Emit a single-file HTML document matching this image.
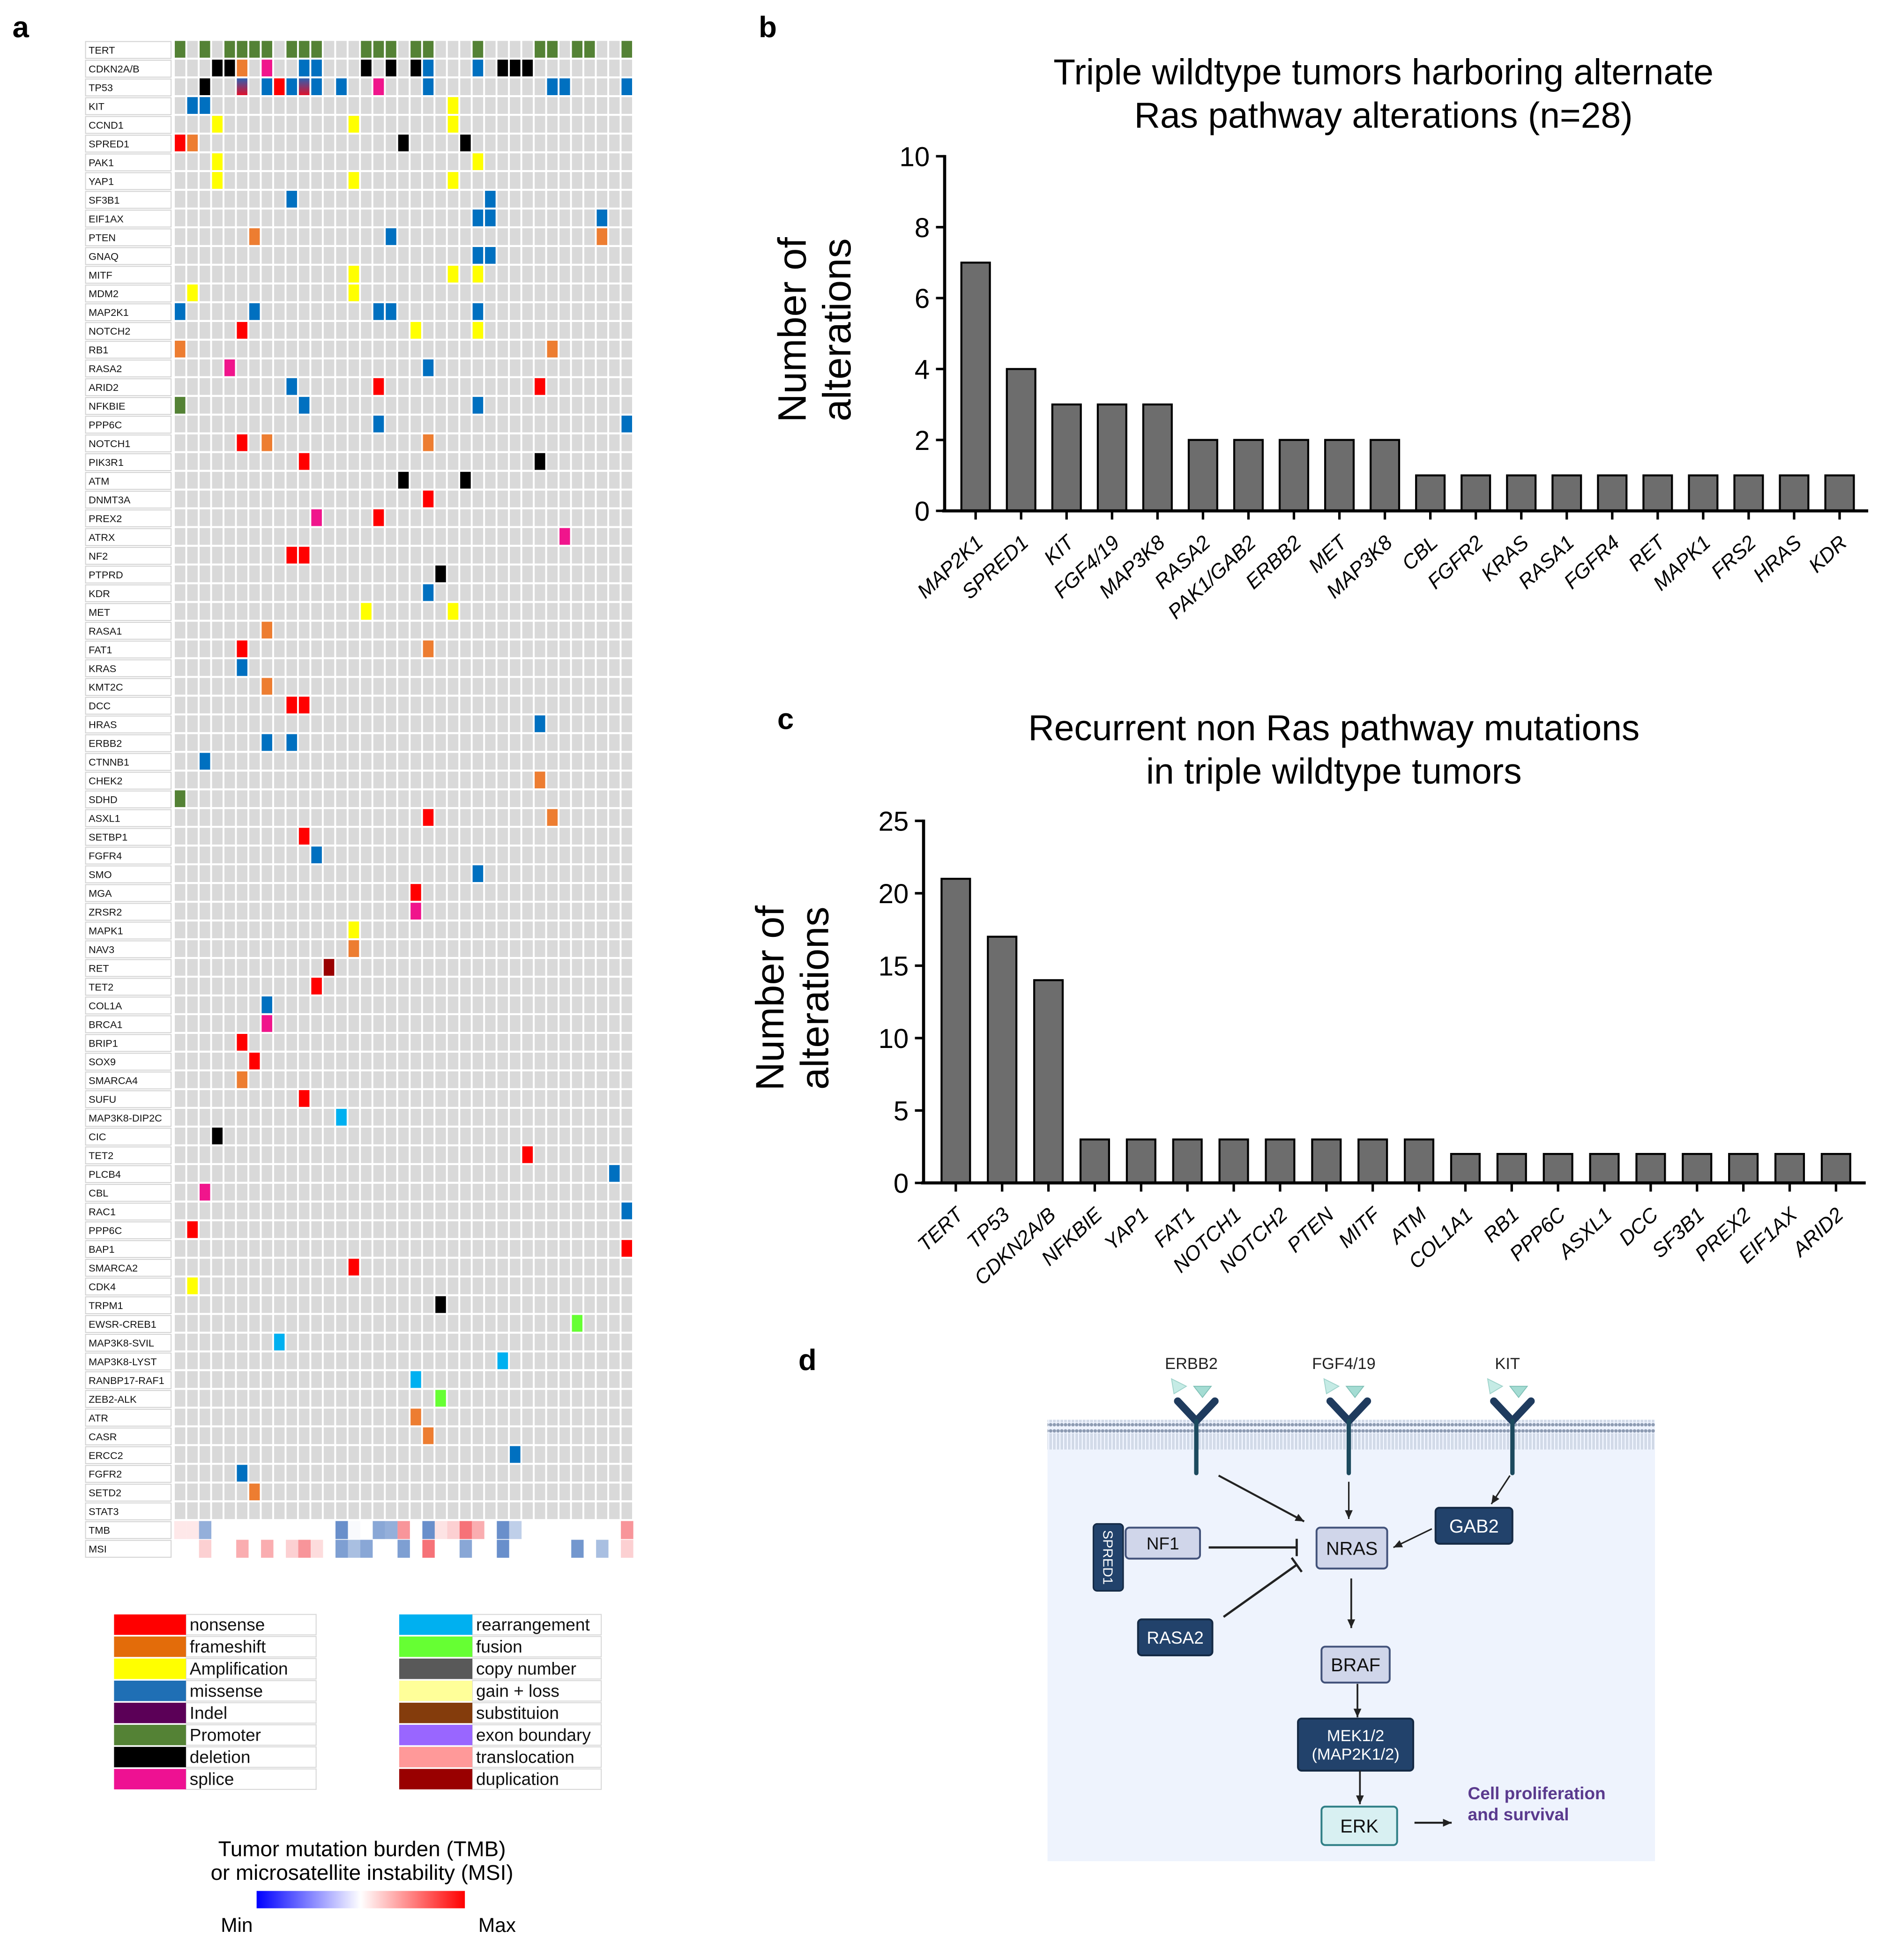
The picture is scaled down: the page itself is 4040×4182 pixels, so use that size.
<!DOCTYPE html>
<html><head><meta charset="utf-8">
<style>
html,body{margin:0;padding:0;background:#fff;}
svg{display:block;font-family:"Liberation Sans",Arial,sans-serif;}
</style></head>
<body>
<svg id="fig" width="4040" height="4182" viewBox="0 0 1527 1580.7" preserveAspectRatio="none" xmlns="http://www.w3.org/2000/svg">
<defs>
<linearGradient id="tp53grad" x1="0" y1="0" x2="0" y2="1"><stop offset="0" stop-color="#2f5fb0"/><stop offset="1" stop-color="#e0102a"/></linearGradient>
<linearGradient id="scalegrad" x1="0" y1="0" x2="1" y2="0"><stop offset="0" stop-color="#0000ff"/><stop offset="0.5" stop-color="#ffffff"/><stop offset="1" stop-color="#ff0000"/></linearGradient>
<pattern id="memb" x="0" y="0" width="3" height="24" patternUnits="userSpaceOnUse"><circle cx="1.5" cy="2" r="1.4" fill="#8d9bb2"/><circle cx="1.5" cy="21" r="1.4" fill="#8d9bb2"/><line x1="1" y1="4" x2="1" y2="19" stroke="#b7c2d4" stroke-width="0.5"/><line x1="2" y1="4" x2="2" y2="19" stroke="#b7c2d4" stroke-width="0.5"/></pattern>
</defs>
<g id="panelA"></g>
<g id="panelB"></g>
<g id="panelC"></g>
<g id="panelD"></g>
</svg>
<script>
var NS="http://www.w3.org/2000/svg";
// ---------- DATA ----------
var genes=["TERT","CDKN2A/B","TP53","KIT","CCND1","SPRED1","PAK1","YAP1","SF3B1","EIF1AX","PTEN","GNAQ","MITF","MDM2","MAP2K1","NOTCH2","RB1","RASA2","ARID2","NFKBIE","PPP6C","NOTCH1","PIK3R1","ATM","DNMT3A","PREX2","ATRX","NF2","PTPRD","KDR","MET","RASA1","FAT1","KRAS","KMT2C","DCC","HRAS","ERBB2","CTNNB1","CHEK2","SDHD","ASXL1","SETBP1","FGFR4","SMO","MGA","ZRSR2","MAPK1","NAV3","RET","TET2","COL1A","BRCA1","BRIP1","SOX9","SMARCA4","SUFU","MAP3K8-DIP2C","CIC","TET2","PLCB4","CBL","RAC1","PPP6C","BAP1","SMARCA2","CDK4","TRPM1","EWSR-CREB1","MAP3K8-SVIL","MAP3K8-LYST","RANBP17-RAF1","ZEB2-ALK","ATR","CASR","ERCC2","FGFR2","SETD2","STAT3"];
var alterations=["P0 P2 P4 P5 P6 P7 P9 P10 P11 P15 P16 P17 P19 P20 P24 P29 P30 P32 P33 P36","D3 D4 F5 S7 M10 M11 D15 D17 D19 M20 M24 D26 D27 D28","D2 G5 M7 N8 M9 G10 M11 M13 S16 M20 M30 M31 M36","M1 M2 A22","A3 A14 A22","N0 F1 D18 D23","A3 A24","A3 A14 A22","M9 M25","M24 M25 M34","F6 M17 F34","M24 M25","A14 A22 A24","A1 A14","M0 M6 M16 M17 M24","N5 A19 A24","F0 F30","S4 M20","M9 N16 N29","P0 M10 M24","M16 M36","N5 F7 F20","N10 D29","D18 D23","N20","S11 N16","S31","N9 N10","D21","M20","A15 A22","F7","N5 F20","M5","F7","N9 N10","M29","M7 M9","M2","F29","P0","N20 F30","N10","M11","M24","N19","S19","A14","F14","X12","N11","M7","S7","N5","N6","F5","N10","R13","D3","N28","M35","S2","M36","N1","N36","N14","A1","D21","U32","R8","R26","R19","U21","F19","F20","M27","M5","F6",""];
var tmbValues=[0.1,0.1,-0.5,0,0,0,0,0,0,0,0,0,0,-0.7,-0.03,0,-0.55,-0.5,0.45,0,-0.7,0.12,0.2,0.6,0.35,0,-0.7,-0.3,0,0,0,0,0,0,0,0,0.45];
var msiValues=[0,0,0.2,0,0,0.35,0,0.35,0,0.2,0.45,0.15,0,-0.6,-0.4,-0.55,0,0,-0.6,0,0.6,0,0,-0.55,0,0,-0.7,0,0,0,0,0,-0.65,0,-0.4,0,0.2];
var bCategories=["MAP2K1","SPRED1","KIT","FGF4/19","MAP3K8","RASA2","PAK1/GAB2","ERBB2","MET","MAP3K8","CBL","FGFR2","KRAS","RASA1","FGFR4","RET","MAPK1","FRS2","HRAS","KDR"];
var bValues=[7,4,3,3,3,2,2,2,2,2,1,1,1,1,1,1,1,1,1,1];
var bTicks=[0,2,4,6,8,10];
var cCategories=["TERT","TP53","CDKN2A/B","NFKBIE","YAP1","FAT1","NOTCH1","NOTCH2","PTEN","MITF","ATM","COL1A1","RB1","PPP6C","ASXL1","DCC","SF3B1","PREX2","EIF1AX","ARID2"];
var cValues=[21,17,14,3,3,3,3,3,3,3,3,2,2,2,2,2,2,2,2,2];
var cTicks=[0,5,10,15,20,25];
var legendLeft=[["nonsense","#ff0000"],["frameshift","#e36c0a"],["Amplification","#ffff00"],["missense","#1f6fb5"],["Indel","#5b0057"],["Promoter","#548235"],["deletion","#000000"],["splice","#ee1192"]];
var legendRight=[["rearrangement","#00b0f0"],["fusion","#66ff33"],["copy number","#595959"],["gain + loss","#ffff99"],["substituion","#843c0c"],["exon boundary","#9966ff"],["translocation","#ff9999"],["duplication","#990000"]];
var typeColors={M:"#0070c0",N:"#ff0000",F:"#ed7d31",A:"#ffff00",P:"#548235",D:"#000000",S:"#f0158c",R:"#00b0f0",U:"#66ff33",X:"#990000",G:"url(#tp53grad)"};

function el(tag,attrs,parent,text){var e=document.createElementNS(NS,tag);for(var k in attrs)e.setAttribute(k,attrs[k]);if(text!==undefined)e.textContent=text;parent.appendChild(e);return e;}
var fig=document.getElementById('fig');

[["a",10,30],["b",612,30],["c",627,588],["d",644,1105]].forEach(function(p){
  var t=el('text',{x:p[1],y:p[2],'font-size':24,'font-weight':'bold'},fig,p[0]);
  
  
});

// ---------- ONCOPRINT ----------
var A=document.getElementById('panelA');
var gx0=141,colW=10.01,rowH=15.11,gy0=33,nCols=37;
function colX(c){return gx0+c*colW;}
function rowY(r){return gy0+r*rowH;}
var allRows=genes.concat(["TMB","MSI"]);
allRows.forEach(function(g,r){
  var lb=el('rect',{x:69,y:rowY(r)+0.5,width:69,height:rowH-1.5,fill:'#fff',stroke:'#d4d4d4','stroke-width':0.8},A);
  
  
  var t=el('text',{x:71.5,y:rowY(r)+10.3,'font-size':8.2,fill:'#111'},A,g);
  
  
});
genes.forEach(function(g,r){
  for(var c=0;c<nCols;c++){
    var bg=el('rect',{x:colX(c),y:rowY(r),width:colW-1.5,height:rowH-1.6,fill:'#d9d9d9'},A);
    
    
  }
  alterations[r].split(' ').filter(Boolean).forEach(function(tok){
    var ty=tok[0],c=parseInt(tok.slice(1));
    var m=el('rect',{x:colX(c),y:rowY(r),width:colW-1.5,height:rowH-1.6,fill:typeColors[ty]},A);
    
    
  });
});
function heat(v){
  var t=Math.min(1,Math.abs(v));var to=v>=0?[240,20,30]:[40,95,180];
  var r=Math.round(255+(to[0]-255)*t),g=Math.round(255+(to[1]-255)*t),b=Math.round(255+(to[2]-255)*t);
  return 'rgb('+r+','+g+','+b+')';
}
[tmbValues,msiValues].forEach(function(arr,i){
  var r=genes.length+i;
  arr.forEach(function(v,c){
    var h=el('rect',{x:colX(c)-0.5,y:rowY(r),width:colW,height:rowH-0.6,fill:heat(v)},A);
    
    
  });
});
function legendCol(items,x0,x1,x2){
  items.forEach(function(it,i){
    var y=1302+i*17.8;
    var box=el('rect',{x:x1,y:y,width:x2-x1,height:16.5,fill:'#fff',stroke:'#d8d8d8','stroke-width':0.8},A);
    
    
    var sw=el('rect',{x:x0,y:y,width:x1-x0,height:16.5,fill:it[1]},A);
    
    
    var t=el('text',{x:x1+3,y:y+13,'font-size':14,fill:'#111'},A,it[0]);
    
    
  });
}
legendCol(legendLeft,92,150,255);
legendCol(legendRight,322,381,485);
var lt1=el('text',{x:292,y:1497,'font-size':17.3,'text-anchor':'middle'},A,"Tumor mutation burden (TMB)");


var lt2=el('text',{x:292,y:1516,'font-size':17.3,'text-anchor':'middle'},A,"or microsatellite instability (MSI)");


var sb=el('rect',{x:207,y:1525,width:168,height:14,fill:'url(#scalegrad)'},A);


var mn=el('text',{x:191,y:1558,'font-size':16,'text-anchor':'middle'},A,"Min");


var mx=el('text',{x:401,y:1558,'font-size':16,'text-anchor':'middle'},A,"Max");



// ---------- BAR CHARTS ----------
function barChart(G,cfg,cats,vals,ticks){
  function yS(v){return cfg.y0-(v/cfg.max)*(cfg.y0-cfg.yTop);}
  function xS(i){return cfg.cx0+i*cfg.step;}
  cfg.title.forEach(function(s,i){
    var t=el('text',{x:cfg.titleX,y:cfg.titleY+i*35,'font-size':29,'text-anchor':'middle'},G,s);
    
    
  });
  var yt=el('text',{transform:'translate('+cfg.ytX+','+cfg.ytY+') rotate(-90)','font-size':32,'text-anchor':'middle'},G);
  
  
  el('tspan',{x:0,y:0},yt,"Number of");
  el('tspan',{x:0,y:36},yt,"alterations");
  vals.forEach(function(v,i){
    var b=el('rect',{x:xS(i)-cfg.bw/2,y:yS(v),width:cfg.bw,height:cfg.y0-yS(v),fill:'#6d6d6d',stroke:'#000','stroke-width':1.6},G);
    
    
    var tk=el('line',{x1:xS(i),y1:cfg.y0,x2:xS(i),y2:cfg.y0+7,stroke:'#000','stroke-width':2},G);
    
    
    var lx=xS(i)+7,ly=cfg.y0+27;
    var t=el('text',{x:lx,y:ly,'font-size':16.5,'font-style':'italic','text-anchor':'end',transform:'rotate(-43 '+lx+' '+ly+')'},G,cats[i]);
    
    
  });
  ticks.forEach(function(v){
    var tk=el('line',{x1:cfg.axX-7,y1:yS(v),x2:cfg.axX,y2:yS(v),stroke:'#000','stroke-width':2},G);
    
    
    var t=el('text',{x:cfg.axX-12,y:yS(v)+8,'font-size':22,'text-anchor':'end'},G,String(v));
    
    
  });
  var ya=el('line',{x1:cfg.axX,y1:cfg.yTop-1,x2:cfg.axX,y2:cfg.y0+1,stroke:'#000','stroke-width':2.5},G);
  
  
  var xa=el('line',{x1:cfg.axX-2,y1:cfg.y0,x2:cfg.xEnd,y2:cfg.y0,stroke:'#000','stroke-width':2.5},G);
  
  
}
barChart(document.getElementById('panelB'),{title:["Triple wildtype tumors harboring alternate","Ras pathway alterations (n=28)"],titleX:1116,titleY:68,ytX:650,ytY:266,axX:762,yTop:126,y0:412,max:10,cx0:787,step:36.68,bw:23,xEnd:1507},bCategories,bValues,bTicks);
barChart(document.getElementById('panelC'),{title:["Recurrent non Ras pathway mutations","in triple wildtype tumors"],titleX:1076,titleY:597,ytX:632,ytY:805,axX:745,yTop:662,y0:954,max:25,cx0:771,step:37.37,bw:23,xEnd:1505},cCategories,cValues,cTicks);

// ---------- PATHWAY DIAGRAM ----------
var D=document.getElementById('panelD');
function nm(e,n,i){return e;}
nm(el('rect',{x:845,y:1145,width:490,height:356,fill:'#eef3fd'},D),'cell-background');
nm(el('rect',{x:845,y:1145,width:490,height:24,fill:'url(#memb)'},D),'cell-membrane');
var dark="#1f3b5e";
[[965,"ERBB2"],[1088,"FGF4/19"],[1220,"KIT"]].forEach(function(r){
  var x=r[0];
  nm(el('text',{x:x-4,y:1104,'font-size':13,'text-anchor':'middle',fill:'#222'},D,r[1]),'receptor-label');
  nm(el('path',{d:'M'+(x-15)+' 1130 L'+x+' 1146 L'+(x+15)+' 1130',fill:'none',stroke:dark,'stroke-width':6,'stroke-linecap':'round','stroke-linejoin':'round'},D),'receptor-arms');
  nm(el('line',{x1:x,y1:1146,x2:x,y2:1188,stroke:'#1c4a5e','stroke-width':3.5,'stroke-linecap':'round'},D),'receptor-stem');
  nm(el('polygon',{points:(x-20)+',1112 '+(x-8)+',1118 '+(x-18)+',1124',fill:'#c5ebe5',stroke:'#9fd3cb','stroke-width':0.7},D),'ligand');
  nm(el('polygon',{points:(x-2)+',1118 '+(x+12)+',1118 '+(x+5)+',1127',fill:'#a4dcd3',stroke:'#7fc0b6','stroke-width':0.7},D),'ligand');
});
function box(x,y,w,h,fill,stroke,txt,col,fs,name){
  nm(el('rect',{x:x,y:y,width:w,height:h,rx:3,fill:fill,stroke:stroke,'stroke-width':1.5},D),name+'-box');
  txt.forEach(function(s,i){nm(el('text',{x:x+w/2,y:y+h/2+fs*0.36+(i-(txt.length-1)/2)*fs*1.15,'font-size':fs,'text-anchor':'middle',fill:col},D,s),name+'-label');});
}
box(908,1232,60,25,'#d0d6ea','#42527a',["NF1"],'#111',14,'nf1');
nm(el('rect',{x:882,y:1229,width:24,height:54,rx:3,fill:'#22426b',stroke:'#152a45','stroke-width':1.2},D),'spred1-box');
nm(el('text',{x:0,y:0,'font-size':11,fill:'#fff','text-anchor':'middle',transform:'translate(890,1256) rotate(90)'},D,"SPRED1"),'spred1-label');
box(1062,1232,57,33,'#d0d6ea','#42527a',["NRAS"],'#111',15,'nras');
box(1158,1216,62,29,'#22426b','#152a45',["GAB2"],'#fff',15,'gab2');
box(918,1306,60,29,'#22426b','#152a45',["RASA2"],'#fff',14,'rasa2');
box(1066,1328,55,29,'#d0d6ea','#42527a',["BRAF"],'#111',15,'braf');
box(1047,1386,93,42,'#22426b','#152a45',["MEK1/2","(MAP2K1/2)"],'#fff',13,'mek');
box(1066,1457,61,31,'#d8f0f2','#2f7f86',["ERK"],'#111',15,'erk');
function arrow(x1,y1,x2,y2,w,name){
  nm(el('line',{x1:x1,y1:y1,x2:x2,y2:y2,stroke:'#222','stroke-width':w},D),name);
  var a=Math.atan2(y2-y1,x2-x1),s=7;
  var p=[[x2,y2],[x2-s*Math.cos(a)+s*0.45*Math.sin(a),y2-s*Math.sin(a)-s*0.45*Math.cos(a)],[x2-s*Math.cos(a)-s*0.45*Math.sin(a),y2-s*Math.sin(a)+s*0.45*Math.cos(a)]];
  nm(el('polygon',{points:p.map(function(q){return q.join(',');}).join(' '),fill:'#222'},D),name+'-head');
}
function inhib(x1,y1,x2,y2,name){
  nm(el('line',{x1:x1,y1:y1,x2:x2,y2:y2,stroke:'#222','stroke-width':1.8},D),name);
  var a=Math.atan2(y2-y1,x2-x1),s=7;
  nm(el('line',{x1:x2+s*Math.sin(a),y1:y2-s*Math.cos(a),x2:x2-s*Math.sin(a),y2:y2+s*Math.cos(a),stroke:'#222','stroke-width':1.8},D),name+'-bar');
}
arrow(983,1190,1052,1227,1.6,'arrow-erbb2-nras');
arrow(1088,1195,1088,1225,1.2,'arrow-fgf-nras');
arrow(1218,1190,1203,1213,1.2,'arrow-kit-gab2');
arrow(1155,1233,1124,1248,1.2,'arrow-gab2-nras');
inhib(975,1248,1046,1248,'inhibit-nf1-nras');
inhib(987,1304,1046,1262,'inhibit-rasa2-nras');
arrow(1090,1273,1090,1313,1.4,'arrow-nras-braf');
arrow(1095,1358,1095,1385,1.4,'arrow-braf-mek');
arrow(1097,1428,1097,1455,1.4,'arrow-mek-erk');
arrow(1141,1470,1171,1470,1.6,'arrow-erk-outcome');
nm(el('text',{x:1184,y:1451,'font-size':14,'font-weight':'bold',fill:'#5a3a8e'},D,"Cell proliferation"),'outcome-label');
nm(el('text',{x:1184,y:1468,'font-size':14,'font-weight':'bold',fill:'#5a3a8e'},D,"and survival"),'outcome-label-line2');
</script>
</body></html>
